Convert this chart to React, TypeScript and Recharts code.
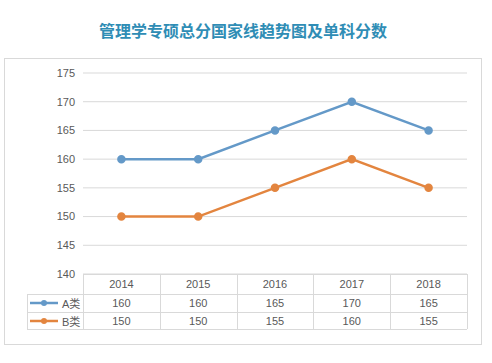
import React from 'react';
import { LineChart, Line, XAxis, YAxis, CartesianGrid } from 'recharts';

const years = ['2014', '2015', '2016', '2017', '2018'];
const seriesA = [160, 160, 165, 170, 165];
const seriesB = [150, 150, 155, 160, 155];
const yTicks = [140, 145, 150, 155, 160, 165, 170, 175];

const seriesNames = ['A类', 'B类'];
const BLUE = '#6499c8';
const ORANGE = '#e3853f';
const GRID = '#d9d9d9';
const TEXT = '#595959';

const data = years.map((y, i) => ({ year: y, a: seriesA[i], b: seriesB[i] }));

// plot box in page pixels
const PLOT_LEFT = 83;
const PLOT_RIGHT = 467;
const PLOT_TOP = 73;
const PLOT_BOTTOM = 274;
const COL_W = (PLOT_RIGHT - PLOT_LEFT) / years.length;
const ROW_TOPS = [274, 294, 312, 329];
const LEGEND_LEFT = 27;

const font = '"Liberation Sans", "Noto Sans CJK SC", sans-serif';

function DataTable() {
  const rows = [seriesA, seriesB];
  const colors = [BLUE, ORANGE];
  const cell = (left: number, top: number, w: number, h: number, content: React.ReactNode, key: string) => (
    <div
      key={key}
      style={{
        position: 'absolute', left, top, width: w, height: h,
        display: 'flex', alignItems: 'center', justifyContent: 'center',
        fontSize: 11, color: TEXT, fontFamily: font,
      }}
    >
      {content}
    </div>
  );
  const lines: React.ReactNode[] = [];
  // horizontal lines
  ROW_TOPS.forEach((y, i) => {
    const left = i === 0 ? PLOT_LEFT : LEGEND_LEFT;
    lines.push(
      <div key={'h' + i} style={{ position: 'absolute', left, top: y, width: PLOT_RIGHT - left, height: 1, background: GRID }} />
    );
  });
  // vertical lines
  for (let c = 0; c <= years.length; c++) {
    lines.push(
      <div key={'v' + c} style={{ position: 'absolute', left: PLOT_LEFT + c * COL_W, top: ROW_TOPS[0], width: 1, height: ROW_TOPS[3] - ROW_TOPS[0], background: GRID }} />
    );
  }
  lines.push(
    <div key="vl" style={{ position: 'absolute', left: LEGEND_LEFT, top: ROW_TOPS[1], width: 1, height: ROW_TOPS[3] - ROW_TOPS[1], background: GRID }} />
  );

  const cells: React.ReactNode[] = [];
  years.forEach((y, c) => {
    cells.push(cell(PLOT_LEFT + c * COL_W, ROW_TOPS[0], COL_W, ROW_TOPS[1] - ROW_TOPS[0], y, 'y' + c));
  });
  rows.forEach((vals, r) => {
    const top = ROW_TOPS[r + 1];
    const h = ROW_TOPS[r + 2] - top;
    vals.forEach((v, c) => {
      cells.push(cell(PLOT_LEFT + c * COL_W, top, COL_W, h, v, 'c' + r + c));
    });
    cells.push(
      <div
        key={'lg' + r}
        style={{
          position: 'absolute', left: LEGEND_LEFT + 3, top, width: PLOT_LEFT - LEGEND_LEFT - 4, height: h,
          display: 'flex', alignItems: 'center', fontSize: 11, color: TEXT, fontFamily: font,
        }}
      >
        <svg width={30} height={8} style={{ marginRight: 2 }}>
          <line x1={0} y1={4} x2={28} y2={4} stroke={colors[r]} strokeWidth={2.5} />
          <circle cx={14} cy={4} r={3} fill={colors[r]} />
        </svg>
        {seriesNames[r]}
      </div>
    );
  });
  return <>{lines}{cells}</>;
}

export default function App() {
  return (
    <div style={{ position: 'absolute', left: 0, top: 0, width: 492, height: 363, background: '#ffffff', overflow: 'hidden' }}>
      <div
        style={{
          position: 'absolute', left: 0, top: 18, width: 486, textAlign: 'center',
          fontSize: 16, fontWeight: 'bold', color: '#2f8db5', fontFamily: '"Noto Sans CJK SC", sans-serif',
        }}
      >
        管理学专硕总分国家线趋势图及单科分数
      </div>
      <div style={{ position: 'absolute', left: 4, top: 58, width: 478, height: 287, border: '1px solid #d9d9d9', boxSizing: 'border-box' }} />
      <div style={{ position: 'absolute', left: 0, top: 0 }}>
        <LineChart
          width={492}
          height={363}
          data={data}
          margin={{ top: PLOT_TOP, bottom: 363 - PLOT_BOTTOM, left: PLOT_LEFT - 40, right: 492 - PLOT_RIGHT }}
        >
          <CartesianGrid vertical={false} stroke={GRID} />
          <XAxis dataKey="year" hide padding={{ left: COL_W / 2, right: COL_W / 2 }} />
          <YAxis
            width={40}
            domain={[140, 175]}
            ticks={yTicks}
            axisLine={false}
            tickLine={false}
            tick={{ fill: TEXT, fontSize: 11, fontFamily: font }}
          />
          <Line dataKey="a" stroke={BLUE} strokeWidth={2.5} dot={{ r: 3, fill: BLUE, stroke: BLUE }} isAnimationActive={false} />
          <Line dataKey="b" stroke={ORANGE} strokeWidth={2.5} dot={{ r: 3, fill: ORANGE, stroke: ORANGE }} isAnimationActive={false} />
        </LineChart>
      </div>
      <DataTable />
    </div>
  );
}
